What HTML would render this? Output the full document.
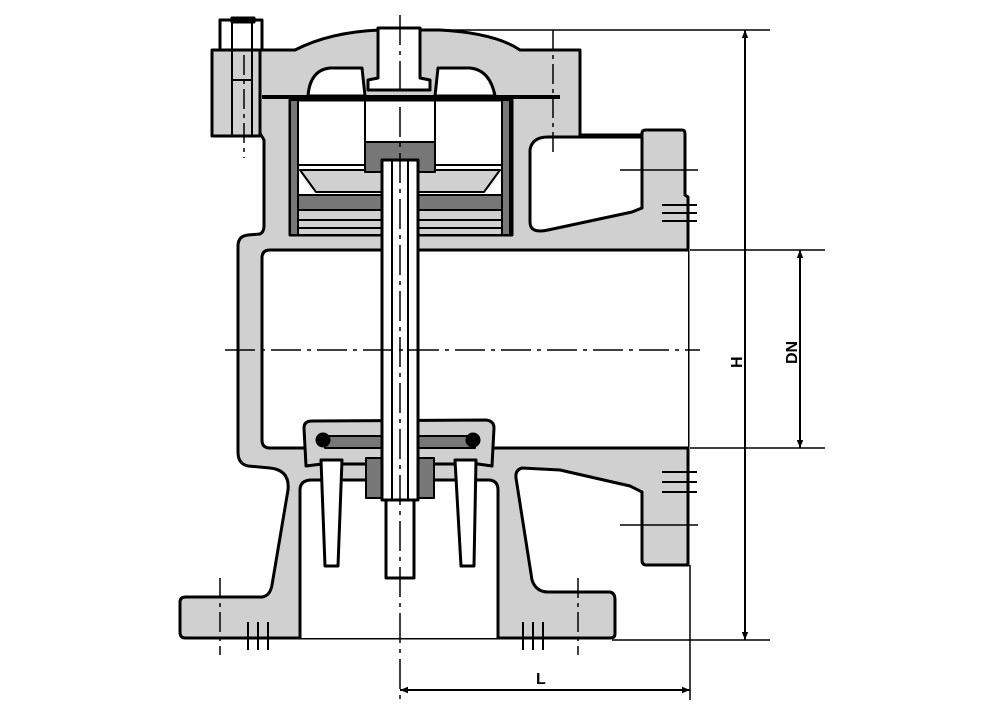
<!DOCTYPE html>
<html><head><meta charset="utf-8"><style>
html,body{margin:0;padding:0;background:#fff}
svg{display:block}
text{font-family:"Liberation Sans",sans-serif;font-weight:bold;font-size:16px}
</style></head><body>
<svg width="1000" height="716" viewBox="0 0 1000 716" xmlns="http://www.w3.org/2000/svg">
<defs>
<marker id="a" viewBox="0 0 10 10" refX="10" refY="5" markerWidth="8" markerHeight="12" orient="auto-start-reverse" markerUnits="userSpaceOnUse"><path d="M0,1 L10,5 L0,9 Z" fill="#000"/></marker>
</defs>
<g stroke="#000" stroke-width="3" stroke-linejoin="round">
<path fill="#d0d0d0" d="M258,97 L258,50 L295,50 Q330,32 380,30 L440,30 Q495,33 520,50 L580,50 L580,135 L642,135 L642,133 Q642,130 646,130 L682,130 Q685,130 685,134 L685,195 L688,197 L688,565 L646,565 Q642,565 642,560 L642,492 L630,486 L560,470 L522,468 Q515,470 516,478 L532,580 Q536,592 548,592 L610,592 Q615,593 615,600 L615,634 Q615,638 610,638 L185,638 Q180,638 180,632 L180,602 Q180,597 186,597 L262,597 Q270,596 272,585 L288,490 Q290,470 270,468 L248,466 Q238,464 238,452 L238,246 Q238,236 248,235 L260,234 Q264,232 264,226 L264,140 L258,130 Z"/>
<path fill="#fff" d="M688,250 L270,250 Q262,250 262,258 L262,440 Q262,448 270,448 L688,448"/>
<path fill="#fff" d="M642,208 L632,212 L548,230 Q530,234 530,222 L530,150 Q532,137 548,137 L642,137 Z"/>
<rect x="290" y="100" width="222" height="135" fill="#fff"/>
<rect x="290" y="100" width="8" height="135" fill="#777" stroke-width="2"/>
<rect x="502" y="100" width="8" height="135" fill="#777" stroke-width="2"/>
<path fill="none" d="M262,97 L560,97" stroke-width="4"/>
<path fill="#fff" d="M308,96 Q310,70 330,68 L362,68 L365,96 Z"/>
<path fill="#fff" d="M435,96 L438,68 L470,68 Q490,70 495,96 Z"/>
<path fill="#fff" d="M378,28 L420,28 L420,78 L430,80 L430,90 L368,90 L368,80 L378,78 Z"/>
<path fill="#fff" d="M298,165 L502,165 L502,235 L298,235 Z" stroke-width="2"/>
<path fill="#d0d0d0" d="M300,170 L500,170 L484,192 L316,192 Z" stroke-width="2"/>
<rect x="298" y="195" width="204" height="15" fill="#777" stroke-width="2"/>
<rect x="298" y="210" width="204" height="25" fill="#d0d0d0" stroke-width="2"/>
<path fill="none" stroke-width="2" d="M298,220 L502,220 M298,228 L502,228"/>
<path fill="none" stroke-width="2" d="M365,100 L365,145 M435,100 L435,145"/>
<path fill="#777" stroke-width="2" d="M365,142 L435,142 L435,172 L418,172 L418,160 L382,160 L382,172 L365,172 Z"/>
<path fill="#fff" d="M300,638 L300,490 Q300,480 312,480 L488,480 Q498,480 498,490 L498,638"/>
<path fill="#d0d0d0" d="M304,428 Q304,421 312,421 L486,420 Q494,421 494,428 L492,466 L478,464 L322,464 L306,466 Z"/>
<rect x="325" y="436" width="150" height="12" fill="#777" stroke-width="2"/>
<circle cx="323" cy="440" r="6" fill="#000"/>
<circle cx="473" cy="440" r="6" fill="#000"/>
<path fill="#fff" d="M321,460 L342,460 L338,566 L325,566 Z"/>
<path fill="#fff" d="M455,460 L476,460 L474,566 L461,566 Z"/>
<rect x="366" y="458" width="18" height="40" fill="#777" stroke-width="2"/>
<rect x="416" y="458" width="18" height="40" fill="#777" stroke-width="2"/>
<rect x="386" y="460" width="28" height="118" fill="#fff"/>
<rect x="382" y="160" width="36" height="340" fill="#fff"/>
<path fill="none" stroke-width="2" d="M392,160 L392,500 M408,160 L408,500"/>
<rect x="212" y="50" width="48" height="86" fill="#d0d0d0"/>
<rect x="220" y="20" width="42" height="30" fill="#fff"/>
<rect x="232" y="18" width="22" height="4" fill="#000"/>
<path fill="none" stroke-width="2" d="M232,20 L232,136 M252,20 L252,136 M232,80 L252,80"/>
</g>
<g stroke="#000" stroke-width="1.5" fill="none">
<path stroke-dasharray="30,6,4,6" d="M225,350 L700,350"/>
<path stroke-dasharray="30,6,4,6" d="M400,15 L400,700"/>
<path stroke-dasharray="20,5,4,5" d="M244,55 L244,158"/>
<path stroke-dasharray="20,5,4,5" d="M553,30 L553,155"/>
<path stroke-dasharray="20,5,4,5" d="M220,578 L220,655 M578,578 L578,655"/>
<path d="M620,170 L698,170 M620,525 L698,525"/>
<path stroke-width="2" d="M662,205 L697,205 M662,213 L697,213 M662,221 L697,221 M662,472 L697,472 M662,482 L697,482 M662,492 L697,492"/>
<path stroke-width="2" d="M248,622 L248,650 M258,622 L258,650 M268,622 L268,650 M523,622 L523,650 M533,622 L533,650 M543,622 L543,650"/>
<path d="M440,30 L770,30 M612,640 L770,640 M690,250 L825,250 M690,448 L825,448 M690,565 L690,700"/>
<path stroke-width="2" d="M745,30 L745,640" marker-start="url(#a)" marker-end="url(#a)"/>
<path stroke-width="2" d="M800,250 L800,448" marker-start="url(#a)" marker-end="url(#a)"/>
<path stroke-width="2" d="M400,690 L690,690" marker-start="url(#a)" marker-end="url(#a)"/>
</g>
<text x="0" y="0" transform="translate(742,368) rotate(-90)">H</text>
<text x="0" y="0" transform="translate(797,364) rotate(-90)">DN</text>
<text x="536" y="684">L</text>
</svg>
</body></html>
